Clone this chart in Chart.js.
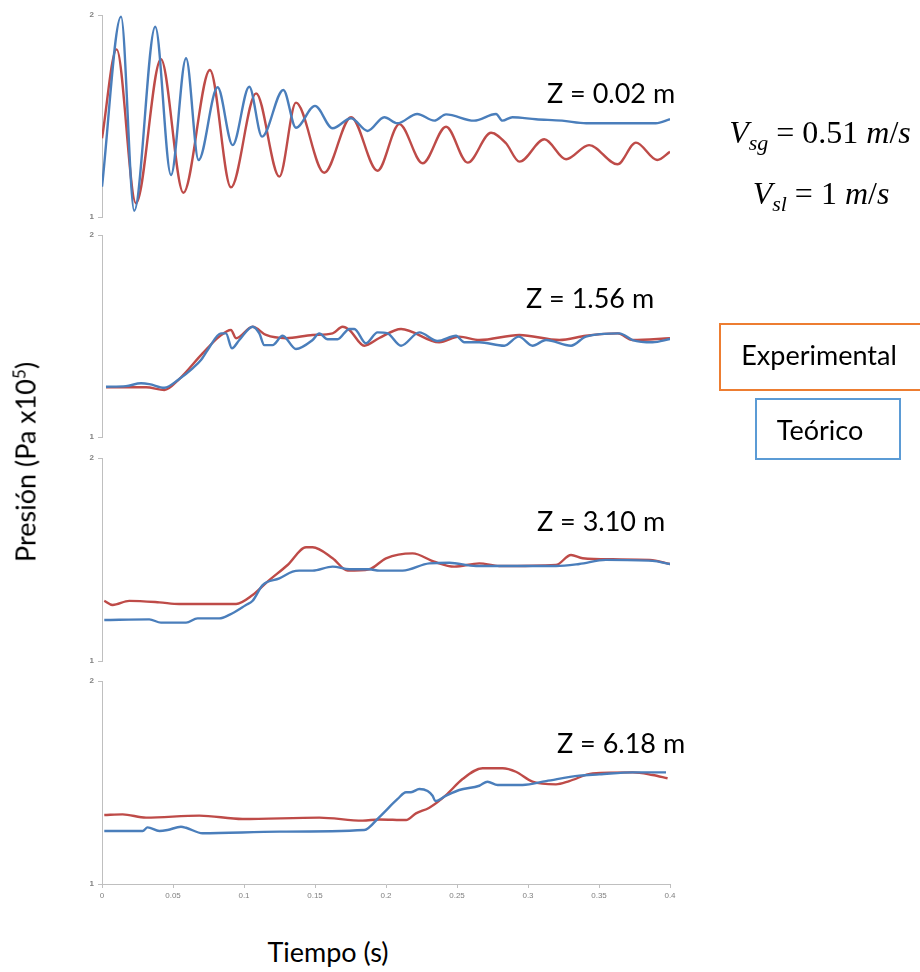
<!DOCTYPE html>
<html><head><meta charset="utf-8">
<script src="https://cdn.jsdelivr.net/npm/chart.js@4.4.1/dist/chart.umd.min.js"></script>
<style>
html,body{margin:0;padding:0;background:#fff;}
body{width:920px;height:972px;overflow:hidden;position:relative;font-family:Lato,'Open Sans',sans-serif;color:#000;}
.pc{position:absolute;left:0;width:920px;}
.t{position:absolute;white-space:nowrap;transform:translate(-50%,-50%);line-height:1;}
.z{font-size:27px;}
.eq{font-family:'Liberation Serif','DejaVu Serif',serif;font-size:32px;}
.eq i{font-style:italic;}
.eq sub{font-size:22px;vertical-align:-7px;line-height:0;}
.box{position:absolute;box-sizing:border-box;}
</style></head><body>

<div class="pc" style="top:3px;height:226px"><canvas id="c1" width="920" height="226"></canvas></div>
<div class="pc" style="top:223px;height:226px"><canvas id="c2" width="920" height="226"></canvas></div>
<div class="pc" style="top:446px;height:227px"><canvas id="c3" width="920" height="227"></canvas></div>
<div class="pc" style="top:669px;height:245px"><canvas id="c4" width="920" height="245"></canvas></div>

<div class="t z" style="left:611px;top:92px">Z = 0.02 m</div>
<div class="t z" style="left:590px;top:297px">Z = 1.56 m</div>
<div class="t z" style="left:601px;top:520px">Z = 3.10 m</div>
<div class="t z" style="left:621px;top:742px">Z = 6.18 m</div>

<div class="t eq" style="left:820px;top:132px"><i>V</i><sub><i>sg</i></sub> = 0.51 <i>m</i>/<i>s</i></div>
<div class="t eq" style="left:821px;top:193px"><i>V</i><sub><i>sl</i></sub> = 1 <i>m</i>/<i>s</i></div>

<div class="box" style="left:719px;top:323px;width:215px;height:68px;border:2px solid #ED7D31"></div>
<div class="t z" style="left:819px;top:354px">Experimental</div>
<div class="box" style="left:755px;top:398px;width:146px;height:62px;border:2px solid #5B9BD5"></div>
<div class="t z" style="left:820px;top:429px">Teórico</div>

<div class="t z" style="left:25px;top:462px;transform:translate(-50%,-50%) rotate(-90deg)">Presión (Pa x10<sup style="font-size:17px;vertical-align:10px;line-height:0">5</sup>)</div>
<div class="t z" style="left:328px;top:951px">Tiempo (s)</div>

<script>
// Time axis ticks
const timeTicks = [0, 0.05, 0.1, 0.15, 0.2, 0.25, 0.3, 0.35, 0.4];
const pressureTicks = [1, 2];

// Z = 0.02 m
const tTeo1 = [0, 0.0134, 0.0227, 0.0375, 0.0486, 0.0592, 0.068, 0.0814, 0.092, 0.1037, 0.1127, 0.1277, 0.1366, 0.150, 0.1624, 0.1754, 0.187, 0.1988, 0.208, 0.222, 0.234, 0.2423, 0.262, 0.2775, 0.282, 0.289, 0.3056, 0.324, 0.341, 0.390, 0.4];
const pTeo1 = [1.150, 1.992, 1.031, 1.942, 1.208, 1.786, 1.282, 1.642, 1.356, 1.645, 1.398, 1.629, 1.442, 1.550, 1.439, 1.489, 1.426, 1.494, 1.464, 1.510, 1.477, 1.508, 1.477, 1.510, 1.477, 1.494, 1.484, 1.477, 1.464, 1.464, 1.484];
const tExp1 = [0, 0.0103, 0.0239, 0.0415, 0.0573, 0.076, 0.0908, 0.1085, 0.1249, 0.1366, 0.1565, 0.1754, 0.194, 0.2094, 0.2258, 0.2423, 0.2575, 0.274, 0.2845, 0.294, 0.3115, 0.3268, 0.343, 0.363, 0.376, 0.391, 0.4];
const pExp1 = [1.390, 1.830, 1.068, 1.781, 1.120, 1.728, 1.147, 1.612, 1.200, 1.566, 1.219, 1.494, 1.229, 1.460, 1.266, 1.447, 1.269, 1.417, 1.365, 1.274, 1.385, 1.286, 1.356, 1.261, 1.368, 1.282, 1.323];

// Z = 1.56 m
const tTeo2 = [0.0028, 0.0169, 0.0275, 0.0333, 0.0439, 0.0544, 0.0638, 0.0697, 0.0744, 0.0838, 0.0873, 0.0915, 0.0967, 0.1061, 0.1108, 0.1143, 0.1201, 0.1272, 0.1366, 0.1483, 0.153, 0.1589, 0.1659, 0.1742, 0.1777, 0.1859, 0.1941, 0.2011, 0.2106, 0.2235, 0.2363, 0.2493, 0.2551, 0.2657, 0.2833, 0.2935, 0.3032, 0.3127, 0.3303, 0.3408, 0.3643, 0.3737, 0.3877, 0.4];
const pTeo2 = [1.249, 1.252, 1.266, 1.262, 1.244, 1.287, 1.340, 1.381, 1.431, 1.513, 1.513, 1.439, 1.480, 1.546, 1.513, 1.455, 1.455, 1.501, 1.436, 1.480, 1.513, 1.484, 1.484, 1.535, 1.535, 1.464, 1.518, 1.513, 1.452, 1.518, 1.475, 1.501, 1.469, 1.469, 1.452, 1.497, 1.452, 1.480, 1.452, 1.497, 1.513, 1.480, 1.469, 1.485];
const tExp2 = [0.0028, 0.031, 0.0439, 0.0544, 0.0708, 0.0826, 0.0908, 0.0944, 0.1061, 0.1155, 0.1296, 0.1483, 0.1624, 0.1694, 0.1742, 0.1847, 0.1953, 0.2106, 0.2375, 0.2516, 0.2657, 0.2939, 0.3221, 0.3408, 0.3631, 0.3737, 0.4];
const pExp2 = [1.246, 1.246, 1.233, 1.287, 1.414, 1.497, 1.530, 1.489, 1.546, 1.505, 1.489, 1.505, 1.513, 1.546, 1.530, 1.452, 1.490, 1.535, 1.469, 1.497, 1.480, 1.505, 1.480, 1.501, 1.513, 1.480, 1.489];

// Z = 3.10 m
const tTeo3 = [0.0016, 0.0333, 0.0415, 0.0592, 0.0673, 0.0826, 0.0896, 0.1014, 0.1061, 0.1131, 0.1249, 0.1342, 0.1389, 0.1483, 0.1624, 0.1742, 0.1882, 0.1953, 0.2117, 0.2305, 0.2446, 0.2634, 0.2798, 0.3197, 0.3361, 0.3549, 0.3877, 0.4];
const pTeo3 = [1.202, 1.205, 1.189, 1.189, 1.210, 1.210, 1.227, 1.276, 1.297, 1.374, 1.407, 1.440, 1.445, 1.445, 1.465, 1.452, 1.452, 1.445, 1.445, 1.481, 1.484, 1.468, 1.468, 1.468, 1.478, 1.498, 1.493, 1.478];
const tExp3 = [0.0016, 0.0075, 0.0192, 0.0404, 0.0544, 0.0944, 0.1061, 0.1166, 0.1307, 0.1437, 0.1483, 0.1624, 0.173, 0.1882, 0.2, 0.2187, 0.234, 0.2481, 0.2657, 0.2798, 0.3197, 0.3303, 0.3385, 0.3596, 0.3858, 0.4];
const pExp3 = [1.297, 1.276, 1.296, 1.289, 1.281, 1.281, 1.325, 1.391, 1.473, 1.560, 1.560, 1.506, 1.445, 1.452, 1.506, 1.530, 1.489, 1.465, 1.481, 1.468, 1.473, 1.522, 1.506, 1.501, 1.498, 1.478];

// Z = 6.18 m
const tTeo4 = [0.0016, 0.0286, 0.0321, 0.0404, 0.0462, 0.0556, 0.0592, 0.0708, 0.1249, 0.1847, 0.1953, 0.2082, 0.2141, 0.2176, 0.2235, 0.2293, 0.2328, 0.2347, 0.2423, 0.2516, 0.2657, 0.2715, 0.2786, 0.2962, 0.3127, 0.3361, 0.3502, 0.3737, 0.3972];
const pTeo4 = [1.261, 1.261, 1.279, 1.261, 1.266, 1.282, 1.277, 1.250, 1.258, 1.266, 1.330, 1.419, 1.452, 1.452, 1.468, 1.458, 1.435, 1.409, 1.435, 1.463, 1.484, 1.504, 1.488, 1.488, 1.507, 1.534, 1.540, 1.550, 1.550];
const tExp4 = [0.0016, 0.0145, 0.031, 0.0685, 0.099, 0.153, 0.1835, 0.1953, 0.2141, 0.2211, 0.2305, 0.2423, 0.2539, 0.268, 0.2821, 0.2915, 0.3032, 0.3197, 0.3291, 0.3455, 0.3737, 0.3877, 0.3983];
const pExp4 = [1.340, 1.343, 1.327, 1.337, 1.320, 1.327, 1.312, 1.318, 1.315, 1.348, 1.376, 1.438, 1.517, 1.570, 1.570, 1.553, 1.504, 1.491, 1.507, 1.545, 1.550, 1.537, 1.521];

const BLUE = '#4A7EBB', RED = '#BE4B48', AXIS = '#BFBFBF', TICKC = '#808080';
const pts = (t, p) => t.map((v, i) => ({x: v, y: p[i]}));

function makePanel(id, tT, pT, tE, pE, bottom) {
  const ds = (label, t, p, color) => ({
    label, data: pts(t, p), borderColor: color, backgroundColor: color,
    borderWidth: 2.4, pointRadius: 0, cubicInterpolationMode: 'monotone', fill: false
  });
  const xScale = {
    type: 'linear', min: 0, max: 0.4, display: bottom,
    afterBuildTicks: s => { s.ticks = timeTicks.map(v => ({value: v})); },
    border: { display: true, color: AXIS, width: 1 },
    grid: { drawOnChartArea: false, drawTicks: true, tickLength: 4, color: AXIS },
    ticks: { maxRotation: 0, autoSkip: false, padding: 3, color: TICKC,
             font: { family: 'Liberation Sans', size: 8 },
             callback: v => String(+Number(v).toFixed(2)) }
  };
  if (bottom) xScale.afterFit = s => { s.height = 26; };
  new Chart(document.getElementById(id), {
    type: 'line',
    data: { datasets: [ds('Teórico', tT, pT, BLUE), ds('Experimental', tE, pE, RED)] },
    options: {
      responsive: false, animation: false, events: [],
      layout: { padding: { left: 70, right: 250, top: 12, bottom: bottom ? 4 : 12 } },
      plugins: { legend: { display: false }, tooltip: { enabled: false } },
      scales: {
        x: xScale,
        y: {
          type: 'linear', min: 1, max: 2,
          afterBuildTicks: s => { s.ticks = pressureTicks.map(v => ({value: v})); },
          afterFit: s => { s.width = 32; },
          border: { display: true, color: AXIS, width: 1 },
          grid: { drawOnChartArea: false, drawTicks: true, tickLength: 4, color: AXIS },
          ticks: { padding: 4, color: TICKC, font: { family: 'Liberation Sans', size: 8, weight: 'bold' },
                   callback: v => String(v) }
        }
      }
    }
  });
}

makePanel('c1', tTeo1, pTeo1, tExp1, pExp1, false);
makePanel('c2', tTeo2, pTeo2, tExp2, pExp2, false);
makePanel('c3', tTeo3, pTeo3, tExp3, pExp3, false);
makePanel('c4', tTeo4, pTeo4, tExp4, pExp4, true);
</script>
</body></html>
